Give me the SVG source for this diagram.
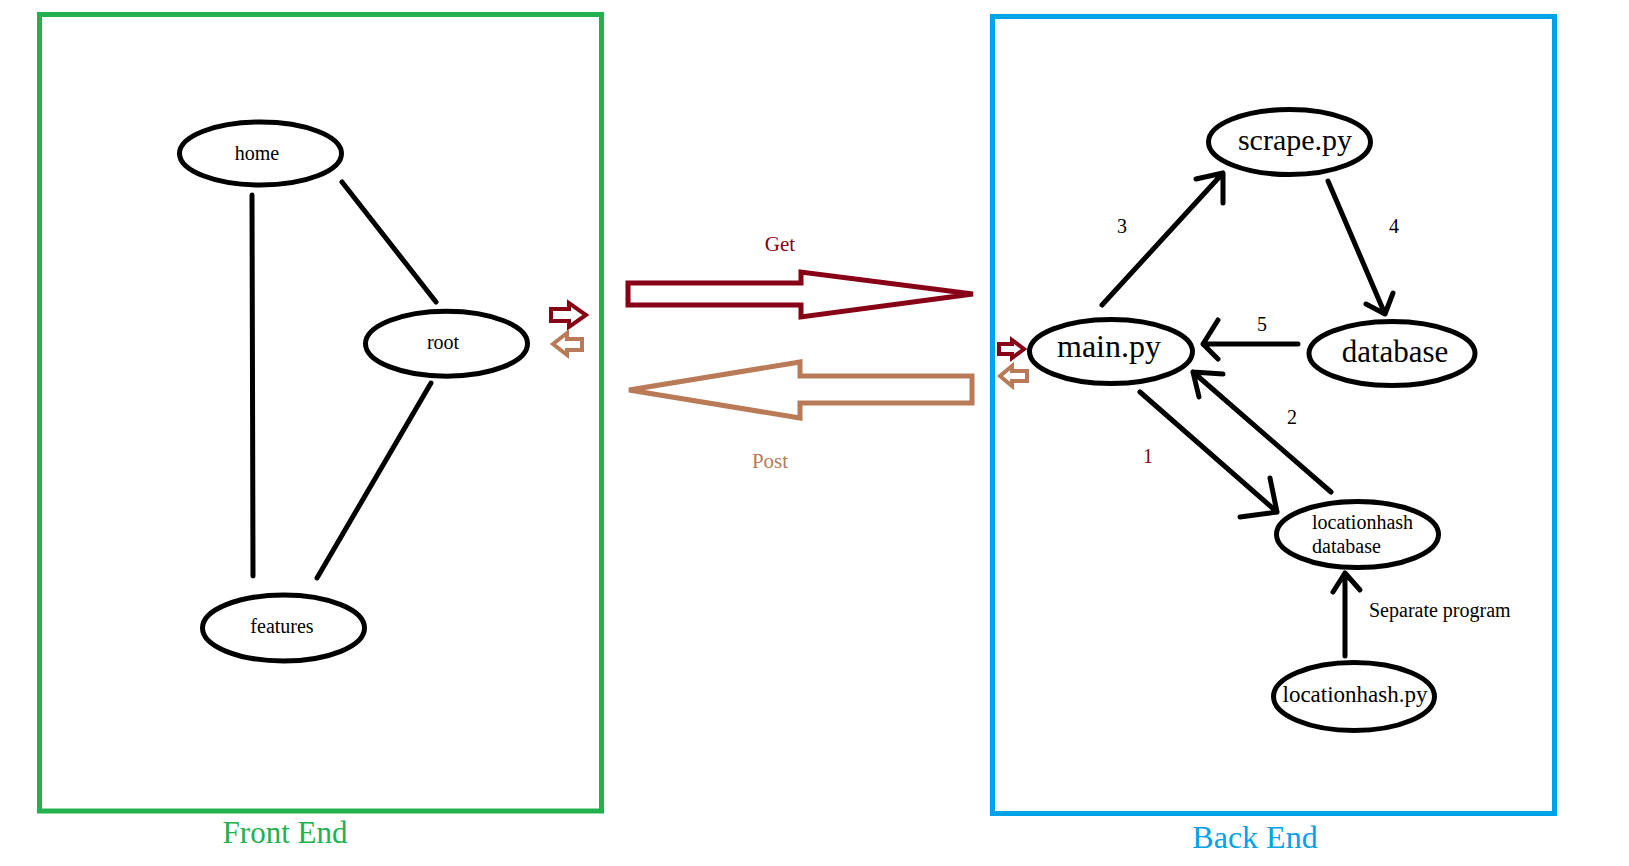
<svg xmlns="http://www.w3.org/2000/svg" width="1629" height="866" viewBox="0 0 1629 866">
<style>
.node{fill:#fff;stroke:#000;stroke-width:5}
.t{font-family:"Liberation Serif","Times New Roman",serif;fill:#000}
.edge{fill:none;stroke:#000;stroke-width:5;stroke-linecap:round;stroke-linejoin:round}
.get{fill:#fff;stroke:#880015;stroke-width:5;stroke-linejoin:miter}
.post{fill:#fff;stroke:#B97A57;stroke-width:5;stroke-linejoin:miter}
</style>
<rect width="1629" height="866" fill="#fff"/>
<g id="frontend-box">
<rect x="39.5" y="14.5" width="562" height="796.5" fill="none" stroke="#22B14C" stroke-width="5"/>
<text class="t" x="285" y="843" font-size="31" text-anchor="middle" style="fill:#22B14C">Front End</text>
</g>
<g id="backend-box">
<rect x="992.5" y="16.5" width="562" height="797" fill="none" stroke="#00A2E8" stroke-width="5"/>
<text class="t" x="1255" y="848" font-size="32" text-anchor="middle" style="fill:#00A2E8">Back End</text>
</g>
<g id="connectors">
<path class="edge" d="M252 195 L253 576"/>
<path class="edge" d="M342 182 L436 302"/>
<path class="edge" d="M431 383 L317 578"/>
<path class="edge" d="M1102 305 L1223 173 M1196 179 L1223 173 L1223 203"/>
<path class="edge" d="M1328 181 L1385 314 M1366 304 L1385 314 L1393 293"/>
<path class="edge" d="M1298 344 L1203 344 M1218 320 L1203 344 L1218 359"/>
<path class="edge" d="M1140 392 L1277 512 M1270 478 L1277 512 L1240 517"/>
<path class="edge" d="M1331 492 L1193 372 M1223 374 L1193 372 L1199 397"/>
<path class="edge" d="M1345 656 L1345 573 M1333 592 L1345 573 L1360 590"/>
<path class="get" d="M628 283 L801 283 L801 272 L973 294 L801 317 L801 305 L628 305 Z"/>
<path class="post" d="M629 390 L800 362 L800 376 L972 376 L972 403 L800 403 L800 418 Z"/>
<path class="get" style="stroke-width:4" d="M551 309 L569 309 L569 303 L586 315 L569 327 L569 321 L551 321 Z"/>
<path class="post" style="stroke-width:4" d="M553 344 L567 333 L567 339 L582 339 L582 350 L567 350 L567 355 Z"/>
<path class="get" style="stroke-width:4" d="M999 344 L1012 344 L1012 340 L1024 349 L1012 358 L1012 354 L999 354 Z"/>
<path class="post" style="stroke-width:4" d="M1000 376 L1012 366 L1012 371 L1027 371 L1027 381 L1012 381 L1012 386 Z"/>
<text class="t" x="780" y="251" font-size="21" text-anchor="middle" style="fill:#880015">Get</text>
<text class="t" x="770" y="468" font-size="21" text-anchor="middle" style="fill:#B97A57">Post</text>
<text class="t" x="1122" y="233" font-size="20" text-anchor="middle">3</text>
<text class="t" x="1394" y="233" font-size="20" text-anchor="middle">4</text>
<text class="t" x="1262" y="331" font-size="20" text-anchor="middle">5</text>
<text class="t" x="1292" y="424" font-size="20" text-anchor="middle">2</text>
<text class="t" x="1148" y="463" font-size="20" text-anchor="middle" style="fill:#880015">1</text>
<text class="t" x="1369" y="617" font-size="20">Separate program</text>
</g>
<g id="home">
<ellipse class="node" cx="260.5" cy="153.5" rx="81" ry="31.5"/>
<text class="t" x="257" y="160" font-size="20" text-anchor="middle">home</text>
</g>
<g id="root">
<ellipse class="node" cx="446.5" cy="343.7" rx="81" ry="32.5"/>
<text class="t" x="443" y="349" font-size="20" text-anchor="middle">root</text>
</g>
<g id="features">
<ellipse class="node" cx="283.5" cy="628" rx="81" ry="33"/>
<text class="t" x="282" y="633" font-size="20" text-anchor="middle">features</text>
</g>
<g id="scrape">
<ellipse class="node" cx="1289.5" cy="142" rx="81" ry="32.5"/>
<text class="t" x="1295" y="150" font-size="30" text-anchor="middle">scrape.py</text>
</g>
<g id="main">
<ellipse class="node" cx="1111" cy="351.5" rx="81.5" ry="32"/>
<text class="t" x="1109" y="357" font-size="32" text-anchor="middle">main.py</text>
</g>
<g id="database">
<ellipse class="node" cx="1392" cy="353.5" rx="83" ry="32"/>
<text class="t" x="1395" y="362" font-size="31" text-anchor="middle">database</text>
</g>
<g id="locationhash-database">
<ellipse class="node" cx="1357.5" cy="534.5" rx="81" ry="33"/>
<text class="t" x="1312" y="529" font-size="20">locationhash</text>
<text class="t" x="1312" y="553" font-size="20">database</text>
</g>
<g id="locationhash-py">
<ellipse class="node" cx="1354" cy="696.5" rx="80.5" ry="34"/>
<text class="t" x="1355" y="702" font-size="23" text-anchor="middle">locationhash.py</text>
</g>
</svg>
